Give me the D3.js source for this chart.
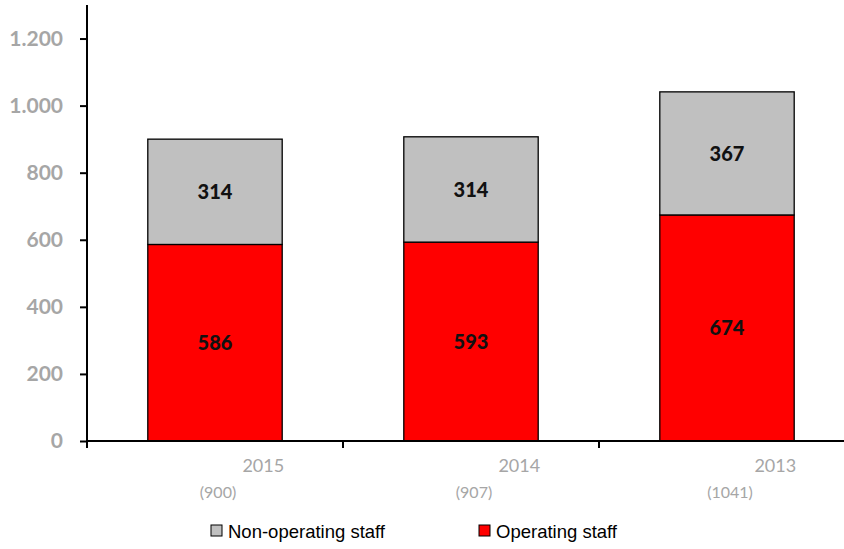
<!DOCTYPE html>
<html>
<head>
<meta charset="utf-8">
<script src="https://cdn.jsdelivr.net/npm/d3@7"></script>
<style>
  html, body { margin: 0; padding: 0; background: #fff; }
  svg { display: block; }
</style>
</head>
<body>
<svg id="chart" width="844" height="549"></svg>
<script>
// Staff headcount by year
const years = ["2015", "2014", "2013"];
const operating = [586, 593, 674];
const nonOperating = [314, 314, 367];
const totals = [900, 907, 1041];
const yTicks = [0, 200, 400, 600, 800, 1000, 1200];
const seriesNames = ["Non-operating staff", "Operating staff"];

const svg = d3.select("#chart");
const W = 844;
const plotLeft = 87, plotTop = 5, plotBottom = 441;

const x = d3.scaleBand()
  .domain(years)
  .range([plotLeft, plotLeft + 256 * 3])
  .paddingInner(0.475)
  .paddingOuter(0.2375);

const y = d3.scaleLinear().domain([0, 1300]).range([plotBottom, plotTop]);

const tickFont = "'Century Gothic', 'URW Gothic', 'Lato', 'DejaVu Sans', sans-serif";
const grey = "#a6a6a6";

// Stacked bars
const rows = years.map((yr, i) => ({ year: yr, op: operating[i], non: nonOperating[i] }));
const g = svg.append("g");

g.selectAll("rect.op").data(rows).join("rect")
  .attr("class", "op")
  .attr("x", d => x(d.year))
  .attr("width", x.bandwidth())
  .attr("y", d => y(d.op))
  .attr("height", d => y(0) - y(d.op))
  .attr("fill", "#ff0000")
  .attr("stroke", "#000").attr("stroke-width", 1.3);

g.selectAll("rect.non").data(rows).join("rect")
  .attr("class", "non")
  .attr("x", d => x(d.year))
  .attr("width", x.bandwidth())
  .attr("y", d => y(d.op + d.non))
  .attr("height", d => y(d.op) - y(d.op + d.non))
  .attr("fill", "#c0c0c0")
  .attr("stroke", "#000").attr("stroke-width", 1.3);

// Segment value labels
const labelFont = "'Lato', 'Open Sans', 'DejaVu Sans', sans-serif";
g.selectAll("text.opv").data(rows).join("text")
  .attr("x", d => x(d.year) + x.bandwidth() / 2)
  .attr("y", d => y(d.op / 2))
  .attr("dy", "0.36em")
  .attr("text-anchor", "middle")
  .attr("font-family", labelFont).attr("font-weight", "900").attr("font-size", 20)
  .attr("fill", "#111")
  .text(d => d.op);

g.selectAll("text.nonv").data(rows).join("text")
  .attr("x", d => x(d.year) + x.bandwidth() / 2)
  .attr("y", d => y(d.op + d.non / 2))
  .attr("dy", "0.36em")
  .attr("text-anchor", "middle")
  .attr("font-family", labelFont).attr("font-weight", "900").attr("font-size", 20)
  .attr("fill", "#111")
  .text(d => d.non);

// Y axis
const yAxis = d3.axisLeft(y).tickValues(yTicks).tickSize(7).tickPadding(17)
  .tickFormat(d => d3.format(",")(d).replace(/,/g, "."));
const ya = svg.append("g").attr("transform", `translate(${plotLeft},0)`).call(yAxis);
ya.select(".domain").attr("stroke", "#000").attr("stroke-width", 2)
  .attr("d", `M0,${plotTop}V${plotBottom + 7}`);
ya.selectAll(".tick line").attr("stroke", "#000").attr("stroke-width", 2);
ya.selectAll(".tick text")
  .attr("font-family", tickFont).attr("font-weight", "bold").attr("font-size", 21)
  .attr("fill", grey);

// X axis with ticks at band boundaries
svg.append("line")
  .attr("x1", plotLeft).attr("x2", W)
  .attr("y1", plotBottom).attr("y2", plotBottom)
  .attr("stroke", "#000").attr("stroke-width", 2);
const step = x.step();
const bounds = years.slice(0, 2).map(d => x(d) + x.bandwidth() + x.paddingInner() * step / 2);
svg.selectAll("line.xt").data(bounds).join("line")
  .attr("x1", d => d).attr("x2", d => d)
  .attr("y1", plotBottom).attr("y2", plotBottom + 7)
  .attr("stroke", "#000").attr("stroke-width", 2);

// Category labels: year and total headcount
svg.selectAll("text.yr").data(rows).join("text")
  .attr("x", d => x(d.year) + x.bandwidth() + 2)
  .attr("y", 472)
  .attr("text-anchor", "end")
  .attr("font-family", tickFont).attr("font-size", 18)
  .attr("fill", grey)
  .text(d => d.year);

svg.selectAll("text.tot").data(totals).join("text")
  .attr("x", (d, i) => x(years[i]) + x.bandwidth() / 2 + 3)
  .attr("y", 498)
  .attr("text-anchor", "middle")
  .attr("font-family", tickFont).attr("font-size", 16)
  .attr("fill", grey)
  .text(d => `(${d})`);

// Legend
const legendColors = ["#c0c0c0", "#ff0000"];
const legendX = [211, 479];
const lg = svg.selectAll("g.lg").data(seriesNames).join("g")
  .attr("transform", (d, i) => `translate(${legendX[i]},525)`);
lg.append("rect").attr("width", 11).attr("height", 11)
  .attr("fill", (d, i) => legendColors[i]).attr("stroke", "#000").attr("stroke-width", 1);
lg.append("text").attr("x", 17).attr("y", 6).attr("dy", "0.36em")
  .attr("font-family", "'Liberation Sans', Arial, sans-serif").attr("font-size", 18.5)
  .attr("fill", "#000")
  .text(d => d);
</script>
</body>
</html>
